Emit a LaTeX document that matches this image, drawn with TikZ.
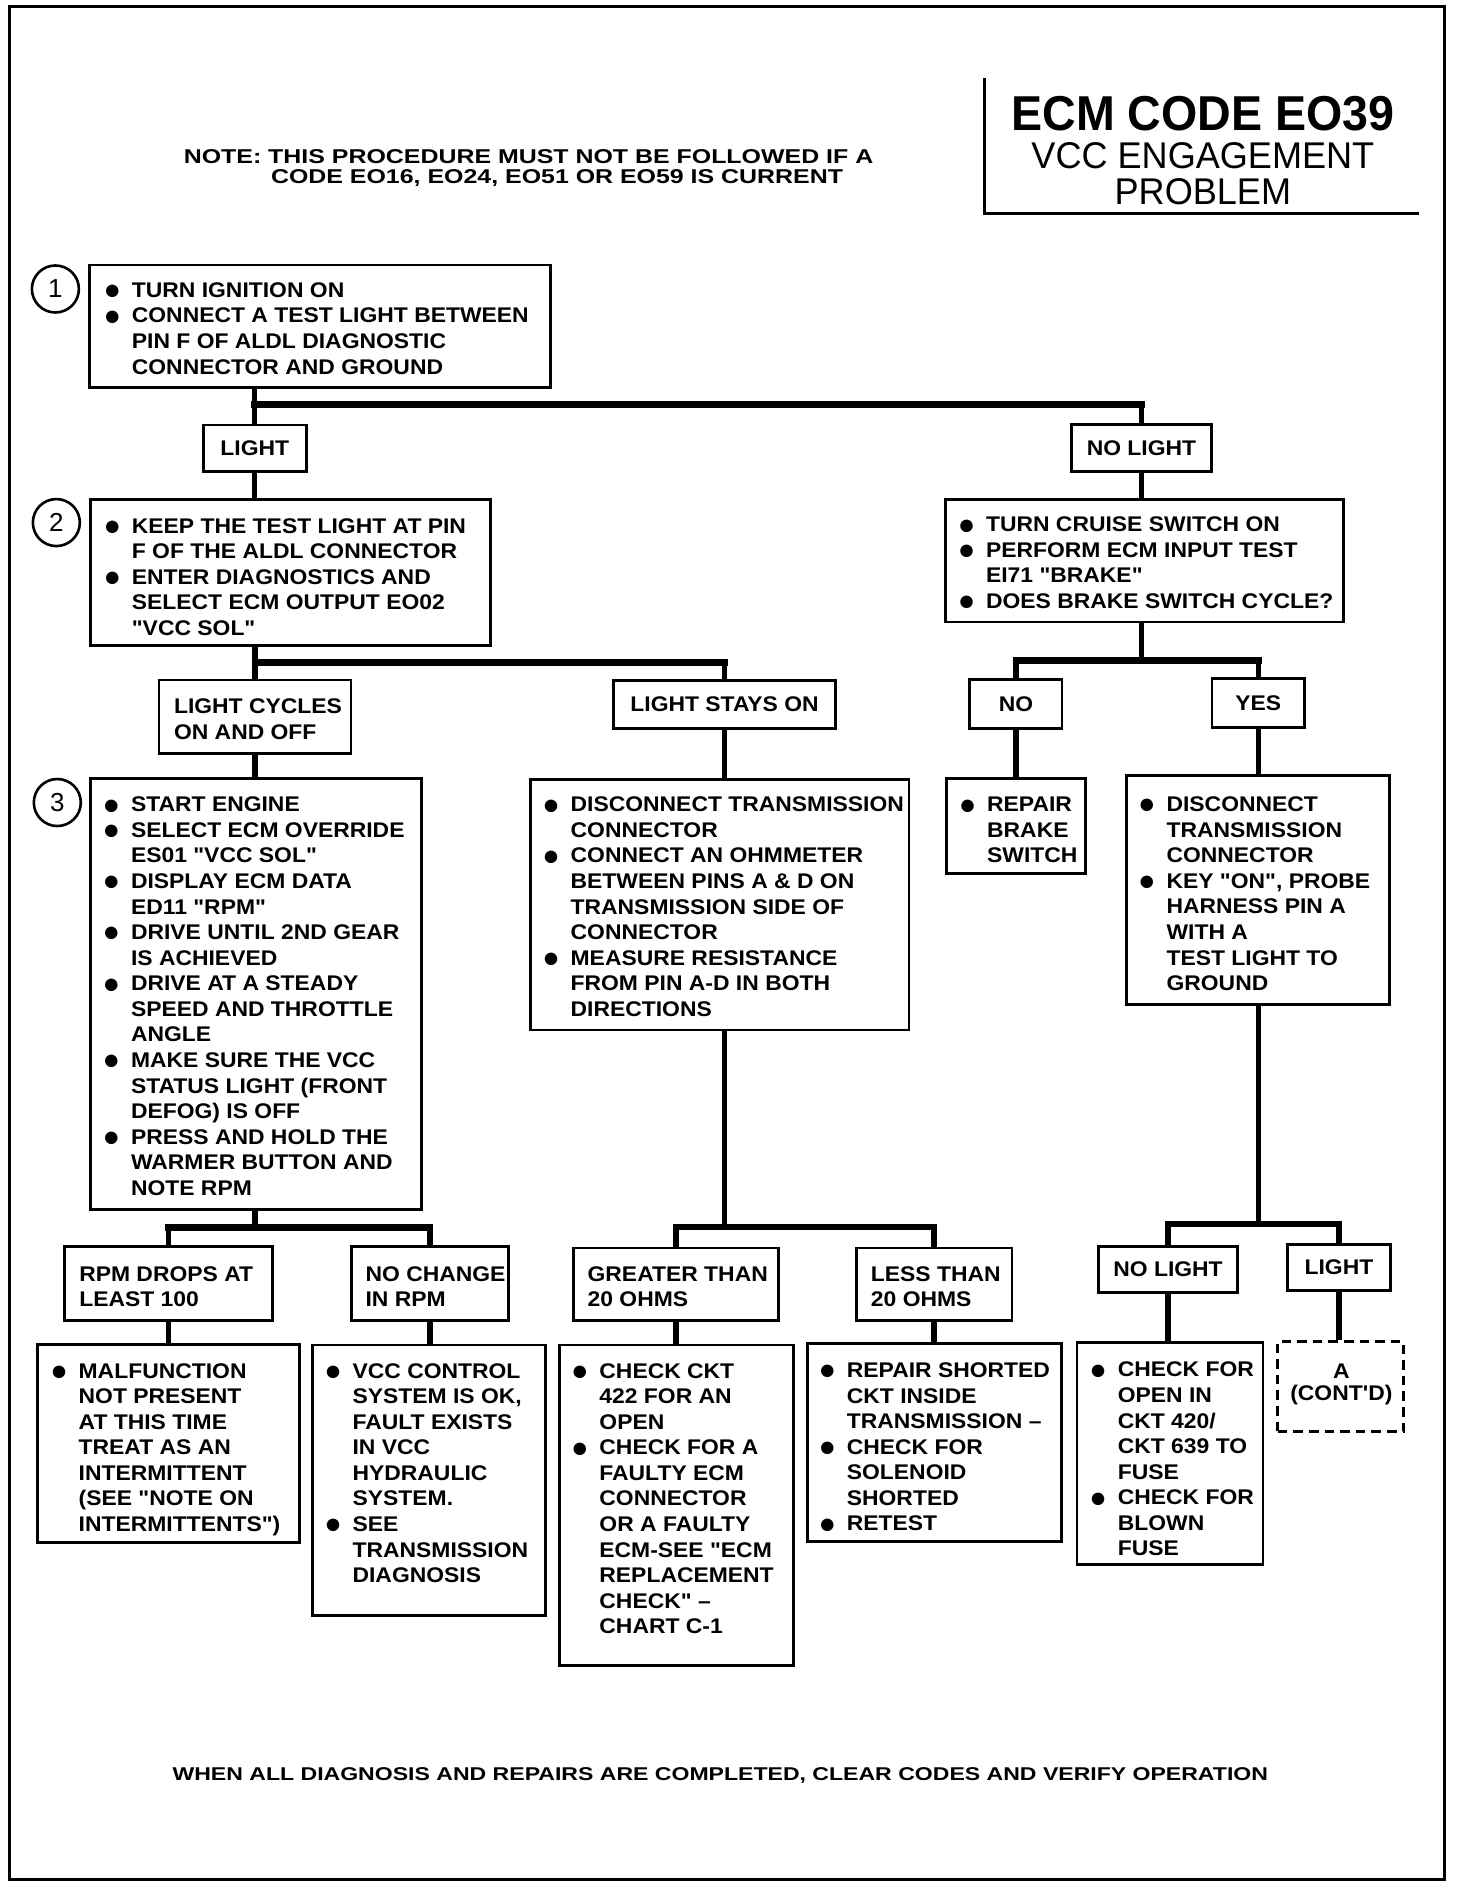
\documentclass[tikz,border=0pt]{standalone}
\usepackage{fontspec}
\setmainfont{Liberation Sans}[Ligatures=TeXOff]
\newfontfamily\bodyfam{Liberation Sans}[FakeStretch=1.08, Ligatures=TeXOff]
\newfontfamily\notefont{Liberation Sans}[FakeStretch=1.246, Ligatures=TeXOff]
\newfontfamily\titlefont{Liberation Sans}[FakeStretch=0.95]
\newfontfamily\subfont{Liberation Sans}[FakeStretch=0.97]
\usetikzlibrary{fit}
\newcommand{\bodyf}{\bodyfam\fontsize{10.6}{12.79}\selectfont\bfseries}
\newcommand{\bu}{\llap{\raisebox{-1.16pt}{\rmfamily\fontsize{14.5}{14.5}\selectfont ●}\hspace{5.4pt}}}
\newcommand{\txtlines}[1]{\begin{tabular}[t]{@{}l@{}}#1\end{tabular}}
\tikzset{
  box/.style={draw, line width=1.4pt, inner sep=0pt, font=\bodyf},
  dbox/.style={box, dash pattern=on 4.8pt off 3pt},
  txt/.style={inner sep=0pt, anchor=base west, font=\bodyf},
  ctxt/.style={inner sep=0pt, anchor=base, font=\bodyf},
  mtxt/.style={inner sep=0pt, anchor=center, font=\bodyf},
  notetxt/.style={inner sep=0pt, anchor=base west, font={\notefont\fontsize{10}{12}\selectfont\bfseries}},
  conn/.style={line width=2.7pt},
  bar/.style={line width=3.3pt, line cap=rect},
  num/.style={circle, draw, line width=1.3pt, minimum size=23.5pt, inner sep=0pt, font={\fontsize{13}{13}\selectfont}}
}
\newcommand{\rbox}[6][box]{\node[#1, fit={(#3,#4)(#5,#6)}] (#2) {};}
\newcommand{\lbox}[6]{\node[box, fit={(#2,#3)(#4,#5)}] (#1) {};\node[mtxt] (#1t) at (#1.center) {#6};}
\begin{document}
\begin{tikzpicture}[x=0.602pt, y=-0.602pt]
\useasboundingbox (0,0) rectangle (1222.5,1568);
% outer frame
\draw[line width=1.5pt] (7.8,5.8) rectangle (1200,1561.3);
% title
\draw[line width=1.5pt] (817.9,65) -- (817.9,177.5) -- (1178.5,177.5);
\node[inner sep=0pt, anchor=base, font={\titlefont\fontsize{24.5}{26}\selectfont\bfseries}] (t1) at (999,108) {ECM CODE EO39};
\node[inner sep=0pt, anchor=base, font={\subfont\fontsize{18.6}{20}\selectfont}] (t2) at (999,139.8) {VCC ENGAGEMENT};
\node[inner sep=0pt, anchor=base, font={\subfont\fontsize{18.6}{20}\selectfont}] (t3) at (999,170) {PROBLEM};
% note
\node[notetxt] (n1) at (152.3,135.6) {NOTE: THIS PROCEDURE MUST NOT BE FOLLOWED IF A};
\node[notetxt] (n2) at (224.8,152) {CODE EO16, EO24, EO51 OR EO59 IS CURRENT};
% step numbers
\node[num] (c1) at (46,240) {1};
\node[num] (c2) at (46.8,434) {2};
\node[num] (c3) at (47.6,666.5) {3};
% boxes
\rbox{b1}{74.5}{220}{457.5}{321.5}
\node[txt] (b1t) at (109.2,247) {\txtlines{\bu TURN IGNITION ON\\ \bu CONNECT A TEST LIGHT BETWEEN\\ PIN F OF ALDL DIAGNOSTIC\\ CONNECTOR AND GROUND}};
\lbox{l1}{168.7}{353}{254.5}{391.7}{LIGHT}
\lbox{nl1}{890}{352.5}{1006}{391.5}{NO LIGHT}
\rbox{b2}{75}{414.5}{407.5}{536}
\node[txt] (b2t) at (109.2,442.7) {\txtlines{\bu KEEP THE TEST LIGHT AT PIN\\ F OF THE ALDL CONNECTOR\\ \bu ENTER DIAGNOSTICS AND\\ SELECT ECM OUTPUT EO02\\ "VCC SOL"}};
\rbox{cr}{785.5}{414.5}{1116}{516.5}
\node[txt] (crt) at (818.6,441.6) {\txtlines{\bu TURN CRUISE SWITCH ON\\ \bu PERFORM ECM INPUT TEST\\ EI71 "BRAKE"\\ \bu DOES BRAKE SWITCH CYCLE?}};
\rbox{lc}{132}{564.7}{291.5}{625.6}
\node[txt] (lct) at (144.2,592.9) {\txtlines{LIGHT CYCLES\\ ON AND OFF}};
\lbox{lso}{509.5}{565}{694}{605}{LIGHT STAYS ON}
\lbox{no}{805.5}{564}{882}{605}{NO}
\lbox{yes}{1006.5}{563.5}{1083.5}{604}{YES}
\rbox{b3}{75}{646.4}{350}{1004.5}
\node[txt] (b3t) at (108.5,674.1) {\txtlines{\bu START ENGINE\\ \bu SELECT ECM OVERRIDE\\ ES01 "VCC SOL"\\ \bu DISPLAY ECM DATA\\ ED11 "RPM"\\ \bu DRIVE UNTIL 2ND GEAR\\ IS ACHIEVED\\ \bu DRIVE AT A STEADY\\ SPEED AND THROTTLE\\ ANGLE\\ \bu MAKE SURE THE VCC\\ STATUS LIGHT (FRONT\\ DEFOG) IS OFF\\ \bu PRESS AND HOLD THE\\ WARMER BUTTON AND\\ NOTE RPM}};
\rbox{lsob}{440.8}{647.2}{755}{855.4}
\node[txt] (lsot) at (473.6,674.1) {\txtlines{\bu DISCONNECT TRANSMISSION\\ CONNECTOR\\ \bu CONNECT AN OHMMETER\\ BETWEEN PINS A \& D ON\\ TRANSMISSION SIDE OF\\ CONNECTOR\\ \bu MEASURE RESISTANCE\\ FROM PIN A-D IN BOTH\\ DIRECTIONS}};
\rbox{rep}{786.2}{646.5}{901.5}{725.5}
\node[txt] (rept) at (819.5,674.1) {\txtlines{\bu REPAIR\\ BRAKE\\ SWITCH}};
\rbox{yb}{935.5}{644.2}{1154}{834}
\node[txt] (ybt) at (968.5,674) {\txtlines{\bu DISCONNECT\\ TRANSMISSION\\ CONNECTOR\\ \bu KEY "ON", PROBE\\ HARNESS PIN A\\ WITH A\\ TEST LIGHT TO\\ GROUND}};
\rbox{rpm}{53.8}{1035.5}{226}{1096.6}
\node[txt] (rpmt) at (65.5,1063.9) {\txtlines{RPM DROPS AT\\ LEAST 100}};
\rbox{nch}{291.6}{1035.5}{422.5}{1096.6}
\node[txt] (ncht) at (303.3,1063.9) {\txtlines{NO CHANGE\\ IN RPM}};
\rbox{gt}{476.3}{1036.5}{646.3}{1097}
\node[txt] (gtt) at (487.7,1064) {\txtlines{GREATER THAN\\ 20 OHMS}};
\rbox{lt}{711}{1036.5}{840.5}{1097}
\node[txt] (ltt) at (723,1064) {\txtlines{LESS THAN\\ 20 OHMS}};
\lbox{nl2}{912.6}{1035}{1027.5}{1073.5}{NO LIGHT}
\lbox{lt2}{1069}{1033.3}{1155}{1072}{LIGHT}
\rbox{mal}{31}{1116.7}{249}{1281}
\node[txt] (malt) at (65,1144.5) {\txtlines{\bu MALFUNCTION\\ NOT PRESENT\\ AT THIS TIME\\ TREAT AS AN\\ INTERMITTENT\\ (SEE "NOTE ON\\ INTERMITTENTS")}};
\rbox{vcc}{259.2}{1117}{453}{1341.5}
\node[txt] (vcct) at (292.5,1144.5) {\txtlines{\bu VCC CONTROL\\ SYSTEM IS OK,\\ FAULT EXISTS\\ IN VCC\\ HYDRAULIC\\ SYSTEM.\\ \bu SEE\\ TRANSMISSION\\ DIAGNOSIS}};
\rbox{ckt}{464.5}{1117}{659}{1383.2}
\node[txt] (cktt) at (497.5,1144.5) {\txtlines{\bu CHECK CKT\\ 422 FOR AN\\ OPEN\\ \bu CHECK FOR A\\ FAULTY ECM\\ CONNECTOR\\ OR A FAULTY\\ ECM-SEE "ECM\\ REPLACEMENT\\ CHECK" –\\ CHART C-1}};
\rbox{rsh}{670.8}{1115.5}{881.5}{1280.5}
\node[txt] (rsht) at (703,1144) {\txtlines{\bu REPAIR SHORTED\\ CKT INSIDE\\ TRANSMISSION –\\ \bu CHECK FOR\\ SOLENOID\\ SHORTED\\ \bu RETEST}};
\rbox{chk}{894.4}{1115}{1049}{1299.2}
\node[txt] (chkt) at (928,1143.5) {\txtlines{\bu CHECK FOR\\ OPEN IN\\ CKT 420/\\ CKT 639 TO\\ FUSE\\ \bu CHECK FOR\\ BLOWN\\ FUSE}};
\rbox[dbox]{abox}{1061.2}{1114}{1165.3}{1189}
\node[ctxt] (aboxt1) at (1114,1145) {A};
\node[ctxt] (aboxt2) at (1114,1163.5) {(CONT'D)};
% connectors level 1
\coordinate (j1) at (0,335.7);
\draw[conn] (b1.south -| l1) -- (l1.north);
\draw[bar] (j1 -| l1) -- (j1 -| nl1);
\draw[conn] (j1 -| nl1) -- (nl1.north);
\draw[conn] (l1.south) -- (l1.south |- b2.north);
\draw[conn] (nl1.south) -- (nl1.south |- cr.north);
% level 2
\coordinate (j2) at (0,550.2);
\draw[conn] (b2.south -| lc) -- (lc.north);
\draw[bar] (j2 -| lc) -- (j2 -| lso);
\draw[conn] (j2 -| lso) -- (lso.north);
\coordinate (j2r) at (0,548.3);
\draw[conn] (cr.south -| nl1) -- (j2r -| nl1);
\draw[bar] (j2r -| no) -- (j2r -| yes);
\draw[conn] (j2r -| no) -- (no.north);
\draw[conn] (j2r -| yes) -- (yes.north);
\draw[conn] (lc.south) -- (lc.south |- b3.north);
\draw[conn] (lso.south) -- (lso.south |- lsob.north);
\draw[conn] (no.south) -- (no.south |- rep.north);
\draw[conn] (yes.south) -- (yes.south |- yb.north);
% level 3
\coordinate (j3) at (0,1019.3);
\draw[conn] (b3.south -| lc) -- (j3 -| lc);
\draw[bar] (j3 -| rpm) -- (j3 -| nch);
\draw[conn] (j3 -| rpm) -- (rpm.north);
\draw[conn] (j3 -| nch) -- (nch.north);
\coordinate (j4) at (0,1019);
\draw[conn] (lsob.south -| lso) -- (j4 -| lso);
\draw[bar] (j4 -| gt) -- (j4 -| lt);
\draw[conn] (j4 -| gt) -- (gt.north);
\draw[conn] (j4 -| lt) -- (lt.north);
\coordinate (j5) at (0,1016.6);
\draw[conn] (yb.south -| yes) -- (j5 -| yes);
\draw[bar] (j5 -| nl2) -- (j5 -| lt2);
\draw[conn] (j5 -| nl2) -- (nl2.north);
\draw[conn] (j5 -| lt2) -- (lt2.north);
% level 4
\draw[conn] (rpm.south) -- (rpm.south |- mal.north);
\draw[conn] (nch.south) -- (nch.south |- vcc.north);
\draw[conn] (gt.south) -- (gt.south |- ckt.north);
\draw[conn] (lt.south) -- (lt.south |- rsh.north);
\draw[conn] (nl2.south) -- (nl2.south |- chk.north);
\draw[conn] (lt2.south) -- (lt2.south |- abox.north);
% footer
\node[notetxt, font={\notefont\fontsize{9.25}{11}\selectfont\bfseries}] (ft) at (143,1479) {WHEN ALL DIAGNOSIS AND REPAIRS ARE COMPLETED, CLEAR CODES AND VERIFY OPERATION};
\end{tikzpicture}
\end{document}
